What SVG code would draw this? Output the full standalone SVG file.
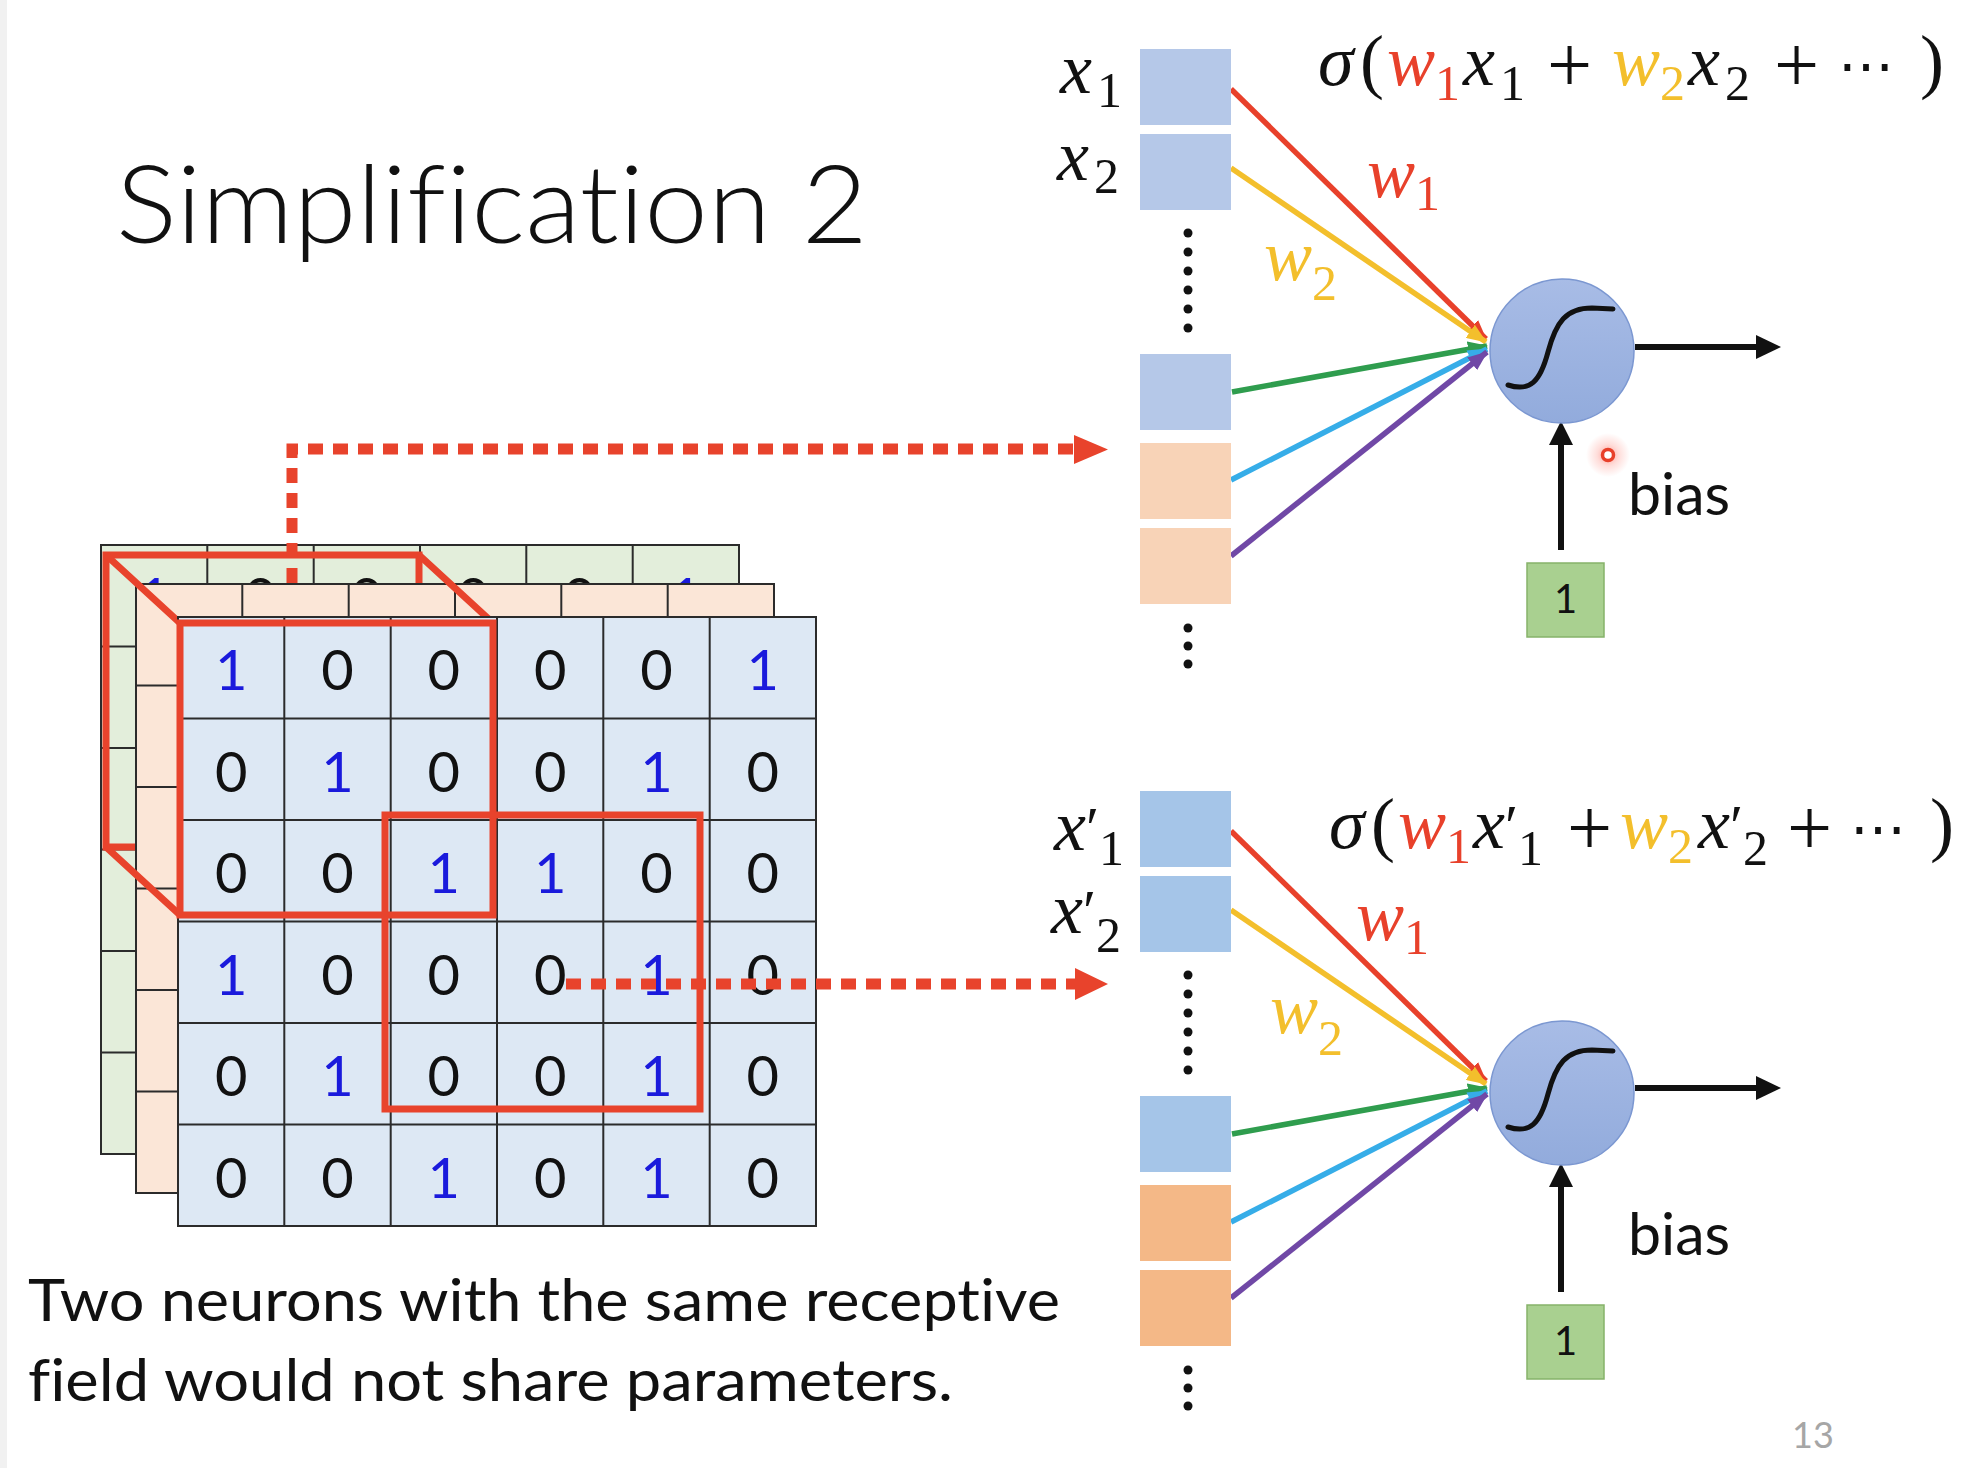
<svg xmlns="http://www.w3.org/2000/svg" width="1966" height="1468" viewBox="0 0 1966 1468">
<style>
.bg{fill:#ffffff}
.grid{stroke:#2b2b2b;stroke-width:2}
.gG{fill:#e3eedb}
.gO{fill:#fbe6d7}
.gF{fill:#dde8f4}
.d{font-family:Lato,"Open Sans",sans-serif;font-size:56px;text-anchor:middle}
.b{fill:#1a1adc}
.k{fill:#111}
.rf{fill:none;stroke:#e8432c;stroke-width:7;stroke-linejoin:miter}
.dot{fill:none;stroke:#e8432c;stroke-width:11;stroke-dasharray:15 10}
.ah{fill:#e8432c}
.m{font-family:"Liberation Serif","DejaVu Serif",serif;font-size:72px;fill:#111}
.it{font-style:italic}
.sub{font-size:50px}
.op{font-size:80px}
.pr{font-size:60px;font-family:"Liberation Serif","DejaVu Serif",serif}
.dots3{font-family:"DejaVu Serif","Liberation Serif",serif;font-size:56px}
.red{fill:#e8412b}
.yel{fill:#f3bf2c}
.tx{font-family:Lato,"Open Sans",sans-serif;fill:#111;font-variant-ligatures:none}
.bB1{fill:#b5c8e8}
.bO1{fill:#f8d3b7}
.bB2{fill:#a5c5e8}
.bO2{fill:#f4b887}
.vd{fill:#111}
.ln{stroke-width:5.5;fill:none}
.neuron{fill:url(#ng);stroke:#7b97d1;stroke-width:1.5}
.sig{fill:none;stroke:#111;stroke-width:5;stroke-linecap:round}
.blk{stroke:#111;stroke-width:6;fill:none}
.one{fill:#a9d090;stroke:#86b36a;stroke-width:1.5}
</style>
<defs>
<linearGradient id="ng" x1="0" y1="0" x2="0" y2="1">
<stop offset="0" stop-color="#a8bce6"/>
<stop offset="1" stop-color="#92abdc"/>
</linearGradient>
<radialGradient id="glow">
<stop offset="0" stop-color="#ff3b2a" stop-opacity="0.5"/>
<stop offset="0.5" stop-color="#ff5a4a" stop-opacity="0.2"/>
<stop offset="1" stop-color="#ff5a4a" stop-opacity="0"/>
</radialGradient>
<marker id="aR" markerUnits="userSpaceOnUse" markerWidth="20" markerHeight="16" refX="19" refY="8" orient="auto"><path d="M0,0 L20,8 L0,16 z" fill="#e8412b"/></marker>
<marker id="aY" markerUnits="userSpaceOnUse" markerWidth="20" markerHeight="16" refX="19" refY="8" orient="auto"><path d="M0,0 L20,8 L0,16 z" fill="#f3bf2c"/></marker>
<marker id="aG" markerUnits="userSpaceOnUse" markerWidth="20" markerHeight="16" refX="19" refY="8" orient="auto"><path d="M0,0 L20,8 L0,16 z" fill="#2f9d4e"/></marker>
<marker id="aC" markerUnits="userSpaceOnUse" markerWidth="20" markerHeight="16" refX="19" refY="8" orient="auto"><path d="M0,0 L20,8 L0,16 z" fill="#36ade8"/></marker>
<marker id="aP" markerUnits="userSpaceOnUse" markerWidth="20" markerHeight="16" refX="19" refY="8" orient="auto"><path d="M0,0 L20,8 L0,16 z" fill="#7048a6"/></marker>
</defs>
<rect class="bg" x="0" y="0" width="1966" height="1468"/>
<rect x="0" y="0" width="7" height="1468" fill="#f1f1f1"/>

<g id="title"><text class="tx" x="116" y="243" font-size="108" font-weight="300" textLength="752" lengthAdjust="spacingAndGlyphs">Simplification 2</text></g>

<g id="input-volume">
<g id="channel-green">
<rect class="gG grid" x="101" y="545" width="638" height="609"/>
<path class="grid" d="M207.3,545V1154M313.7,545V1154M420,545V1154M526.3,545V1154M632.7,545V1154M101,646.5H739M101,748H739M101,849.5H739M101,951H739M101,1052.5H739"/>
<text class="d b" x="154.2" y="618">1</text><text class="d k" x="260.5" y="618">0</text><text class="d k" x="366.8" y="618">0</text><text class="d k" x="473.2" y="618">0</text><text class="d k" x="579.5" y="618">0</text><text class="d b" x="685.8" y="618">1</text>
</g>
<rect class="rf" x="106" y="555" width="313" height="292"/>
<g id="channel-orange">
<rect class="gO grid" x="136" y="584" width="638" height="609"/>
<path class="grid" d="M242.3,584V1193M348.7,584V1193M455,584V1193M561.3,584V1193M667.7,584V1193M136,685.5H774M136,787H774M136,888.5H774M136,990H774M136,1091.5H774"/>
</g>
<path class="rf" d="M106,555L180,623M419,555L493,623M106,847L180,915"/>
<g id="channel-front">
<rect class="gF grid" x="178" y="617" width="638" height="609"/>
<path class="grid" d="M284.3,617V1226M390.7,617V1226M497,617V1226M603.3,617V1226M709.7,617V1226M178,718.5H816M178,820H816M178,921.5H816M178,1023H816M178,1124.5H816"/>
<text class="d b" x="231.2" y="690">1</text><text class="d k" x="337.5" y="690">0</text><text class="d k" x="443.8" y="690">0</text><text class="d k" x="550.2" y="690">0</text><text class="d k" x="656.5" y="690">0</text><text class="d b" x="762.8" y="690">1</text>
<text class="d k" x="231.2" y="791.5">0</text><text class="d b" x="337.5" y="791.5">1</text><text class="d k" x="443.8" y="791.5">0</text><text class="d k" x="550.2" y="791.5">0</text><text class="d b" x="656.5" y="791.5">1</text><text class="d k" x="762.8" y="791.5">0</text>
<text class="d k" x="231.2" y="893">0</text><text class="d k" x="337.5" y="893">0</text><text class="d b" x="443.8" y="893">1</text><text class="d b" x="550.2" y="893">1</text><text class="d k" x="656.5" y="893">0</text><text class="d k" x="762.8" y="893">0</text>
<text class="d b" x="231.2" y="994.5">1</text><text class="d k" x="337.5" y="994.5">0</text><text class="d k" x="443.8" y="994.5">0</text><text class="d k" x="550.2" y="994.5">0</text><text class="d b" x="656.5" y="994.5">1</text><text class="d k" x="762.8" y="994.5">0</text>
<text class="d k" x="231.2" y="1096">0</text><text class="d b" x="337.5" y="1096">1</text><text class="d k" x="443.8" y="1096">0</text><text class="d k" x="550.2" y="1096">0</text><text class="d b" x="656.5" y="1096">1</text><text class="d k" x="762.8" y="1096">0</text>
<text class="d k" x="231.2" y="1197.5">0</text><text class="d k" x="337.5" y="1197.5">0</text><text class="d b" x="443.8" y="1197.5">1</text><text class="d k" x="550.2" y="1197.5">0</text><text class="d b" x="656.5" y="1197.5">1</text><text class="d k" x="762.8" y="1197.5">0</text>
</g>
<rect class="rf" x="180" y="623" width="313" height="292"/>
<rect class="rf" x="385" y="815" width="315" height="294"/>
</g>

<g id="connectors">
<path class="dot" d="M292,583V449H1076"/>
<polygon class="ah" points="1074,435 1074,464 1108,449.5"/>
<path class="dot" d="M566,984H1076"/>
<polygon class="ah" points="1075,968 1075,1000 1108,984"/>
<line class="ln" x1="1231" y1="89" x2="1486" y2="339" stroke="#e8412b" marker-end="url(#aR)"/>
<line class="ln" x1="1231" y1="168" x2="1486" y2="342" stroke="#f3bf2c" marker-end="url(#aY)"/>
<line class="ln" x1="1232" y1="392" x2="1487" y2="346" stroke="#2f9d4e" marker-end="url(#aG)"/>
<line class="ln" x1="1231" y1="480" x2="1487" y2="349" stroke="#36ade8" marker-end="url(#aC)"/>
<line class="ln" x1="1231" y1="556" x2="1487" y2="352" stroke="#7048a6" marker-end="url(#aP)"/>
<line class="ln" x1="1231" y1="831" x2="1486" y2="1081" stroke="#e8412b" marker-end="url(#aR)"/>
<line class="ln" x1="1231" y1="910" x2="1486" y2="1084" stroke="#f3bf2c" marker-end="url(#aY)"/>
<line class="ln" x1="1232" y1="1134" x2="1487" y2="1088" stroke="#2f9d4e" marker-end="url(#aG)"/>
<line class="ln" x1="1231" y1="1222" x2="1487" y2="1091" stroke="#36ade8" marker-end="url(#aC)"/>
<line class="ln" x1="1231" y1="1298" x2="1487" y2="1094" stroke="#7048a6" marker-end="url(#aP)"/>
<line class="blk" x1="1635" y1="347" x2="1760" y2="347"/>
<polygon fill="#111" points="1756,335 1756,359 1781,347"/>
<line class="blk" x1="1561" y1="550" x2="1561" y2="440"/>
<polygon fill="#111" points="1549,445 1573,445 1561,421"/>
<line class="blk" x1="1635" y1="1088" x2="1760" y2="1088"/>
<polygon fill="#111" points="1756,1076 1756,1100 1781,1088"/>
<line class="blk" x1="1561" y1="1292" x2="1561" y2="1182"/>
<polygon fill="#111" points="1549,1187 1573,1187 1561,1163"/>
</g>

<g id="inputs-top">
<rect class="bB1" x="1140" y="49" width="91" height="76"/>
<rect class="bB1" x="1140" y="134" width="91" height="76"/>
<rect class="bB1" x="1140" y="354" width="91" height="76"/>
<rect class="bO1" x="1140" y="443" width="91" height="76"/>
<rect class="bO1" x="1140" y="528" width="91" height="76"/>
<circle class="vd" cx="1188" cy="233" r="4.5"/><circle class="vd" cx="1188" cy="252" r="4.5"/><circle class="vd" cx="1188" cy="271" r="4.5"/><circle class="vd" cx="1188" cy="290" r="4.5"/><circle class="vd" cx="1188" cy="309" r="4.5"/><circle class="vd" cx="1188" cy="328" r="4.5"/>
<circle class="vd" cx="1188" cy="628" r="4.5"/><circle class="vd" cx="1188" cy="646" r="4.5"/><circle class="vd" cx="1188" cy="664" r="4.5"/>
<text class="m"><tspan class="it" x="1060" y="93">x</tspan><tspan class="sub" dx="5" y="107">1</tspan></text>
<text class="m"><tspan class="it" x="1057" y="180">x</tspan><tspan class="sub" dx="5" y="193">2</tspan></text>
</g>

<g id="neuron-top">
<circle class="neuron" cx="1562" cy="351" r="72"/>
<path class="sig" d="M1508,385 C1530,392 1540,382 1548,352 C1556,322 1566,308 1592,308 L1613,309"/>
</g>
<g id="bias-top">
<rect class="one" x="1527" y="563" width="77" height="74"/>
<text class="tx" x="1565.5" y="613" font-size="40" text-anchor="middle">1</text>
<text class="tx" x="1628" y="515" font-size="59">bias</text>
<circle cx="1608" cy="455" r="22" fill="url(#glow)"/>
<circle cx="1608" cy="455" r="5.5" fill="#fff" stroke="#e8412b" stroke-width="3.5"/>
</g>
<g id="formula-top">
<text class="m" y="85"><tspan class="it" x="1318">σ</tspan><tspan x="1360">(</tspan><tspan class="it red" x="1387">w</tspan><tspan class="sub red" y="100">1</tspan><tspan class="it" x="1463" y="85">x</tspan><tspan class="sub" dx="5" y="100">1</tspan><tspan class="op" x="1547" y="92">+</tspan><tspan class="it yel" x="1612" y="85">w</tspan><tspan class="sub yel" y="100">2</tspan><tspan class="it" x="1688" y="85">x</tspan><tspan class="sub" dx="5" y="100">2</tspan><tspan class="op" x="1774" y="92">+</tspan><tspan class="dots3" x="1838" y="85">⋯</tspan><tspan x="1920">)</tspan></text>
<text class="m"><tspan class="it red" x="1367" y="197">w</tspan><tspan class="sub red" y="210">1</tspan></text>
<text class="m"><tspan class="it yel" x="1264" y="280">w</tspan><tspan class="sub yel" y="300">2</tspan></text>
</g>

<g id="inputs-bottom">
<rect class="bB2" x="1140" y="791" width="91" height="76"/>
<rect class="bB2" x="1140" y="876" width="91" height="76"/>
<rect class="bB2" x="1140" y="1096" width="91" height="76"/>
<rect class="bO2" x="1140" y="1185" width="91" height="76"/>
<rect class="bO2" x="1140" y="1270" width="91" height="76"/>
<circle class="vd" cx="1188" cy="975" r="4.5"/><circle class="vd" cx="1188" cy="994" r="4.5"/><circle class="vd" cx="1188" cy="1013" r="4.5"/><circle class="vd" cx="1188" cy="1032" r="4.5"/><circle class="vd" cx="1188" cy="1051" r="4.5"/><circle class="vd" cx="1188" cy="1070" r="4.5"/>
<circle class="vd" cx="1188" cy="1370" r="4.5"/><circle class="vd" cx="1188" cy="1388" r="4.5"/><circle class="vd" cx="1188" cy="1406" r="4.5"/>
<text class="m"><tspan class="it" x="1054" y="850">x</tspan><tspan class="pr" y="848">′</tspan><tspan class="sub" y="865">1</tspan></text>
<text class="m"><tspan class="it" x="1051" y="933">x</tspan><tspan class="pr" y="931">′</tspan><tspan class="sub" y="952">2</tspan></text>
</g>

<g id="neuron-bottom">
<circle class="neuron" cx="1562" cy="1093" r="72"/>
<path class="sig" d="M1508,1127 C1530,1134 1540,1124 1548,1094 C1556,1064 1566,1050 1592,1050 L1613,1051"/>
</g>
<g id="bias-bottom">
<rect class="one" x="1527" y="1305" width="77" height="74"/>
<text class="tx" x="1565.5" y="1355" font-size="40" text-anchor="middle">1</text>
<text class="tx" x="1628" y="1255" font-size="59">bias</text>
</g>
<g id="formula-bottom">
<text class="m" y="848"><tspan class="it" x="1329">σ</tspan><tspan x="1371">(</tspan><tspan class="it red" x="1398">w</tspan><tspan class="sub red" y="863">1</tspan><tspan class="it" x="1473" y="848">x</tspan><tspan class="pr" y="846">′</tspan><tspan class="sub" y="865">1</tspan><tspan class="op" x="1567" y="855">+</tspan><tspan class="it yel" x="1620" y="848">w</tspan><tspan class="sub yel" y="863">2</tspan><tspan class="it" x="1698" y="848">x</tspan><tspan class="pr" y="846">′</tspan><tspan class="sub" y="865">2</tspan><tspan class="op" x="1787" y="855">+</tspan><tspan class="dots3" x="1850" y="848">⋯</tspan><tspan x="1930">)</tspan></text>
<text class="m"><tspan class="it red" x="1356" y="940">w</tspan><tspan class="sub red" y="954">1</tspan></text>
<text class="m"><tspan class="it yel" x="1270" y="1033">w</tspan><tspan class="sub yel" y="1055">2</tspan></text>
</g>

<g id="caption">
<text class="tx" x="28" y="1321" font-size="59" textLength="1032" lengthAdjust="spacingAndGlyphs">Two neurons with the same receptive</text>
<text class="tx" x="28" y="1401" font-size="59" textLength="925" lengthAdjust="spacingAndGlyphs">field would not share parameters.</text>
</g>
<g id="page"><text class="tx" x="1792" y="1448" font-size="36" style="fill:#a6a6a6">13</text></g>
</svg>
